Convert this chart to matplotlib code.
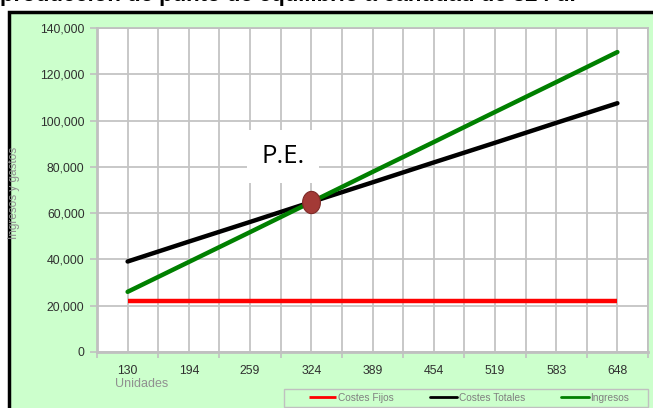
import numpy as np
import matplotlib.pyplot as plt
from matplotlib.path import Path
from matplotlib.patches import Rectangle
from matplotlib.ticker import FuncFormatter, FixedLocator

plt.rcParams['font.family'] = ['Liberation Sans', 'DejaVu Sans']

# Unidades producidas y resultados
unidades = ['130', '194', '259', '324', '389', '454', '519', '583', '648']
costes_fijos = [22000, 22000, 22000, 22000, 22000, 22000, 22000, 22000, 22000]
costes_totales = [39100, 47700, 56200, 64800, 73300, 81900, 90400, 99000, 107500]
ingresos = [26000, 38900, 51800, 64800, 77800, 90700, 103700, 116600, 129600]

# Punto de equilibrio
pe_unidades = '324'
pe_valor = 64800

W, H = 653, 408
fig = plt.figure(figsize=(W / 100, H / 100), dpi=100)
fig.patch.set_facecolor('white')

# marco verde del grafico
marco = Rectangle((9 / W, -0.05), 1.2, (396 / H) + 0.05, transform=fig.transFigure,
                  facecolor='#CCFFCC', edgecolor='black', linewidth=2.5, zorder=-5)
fig.patches.append(marco)

fig.text(0.0, 407 / H, 'producción de punto de equilibrio a cantidad de 324 u.',
         fontsize=16, fontweight='bold', va='baseline', ha='left')

ax = fig.add_axes([97 / W, 56 / H, 551 / W, 324 / H])
ax.set_facecolor('white')

x = np.arange(len(unidades))
ax.plot(x, costes_fijos, color='#FF0000', lw=3.2, solid_capstyle='butt', label='Costes Fijos', zorder=3)
ax.plot(x, costes_totales, color='black', lw=3.2, solid_capstyle='round', label='Costes Totales', zorder=3)
ax.plot(x, ingresos, color='#008000', lw=3.2, solid_capstyle='round', label='Ingresos', zorder=4)

# marcador eliptico del punto de equilibrio
t = np.linspace(0, 2 * np.pi, 60)
elipse = Path(np.column_stack([0.8 * np.cos(t), np.sin(t)]), closed=True)
ax.plot(unidades.index(pe_unidades), pe_valor, marker=elipse, markersize=16,
        color='#A33A36', markeredgecolor='#7E2A27', markeredgewidth=0.8, zorder=5)

ax.text(2.54, 84500, 'P.E.', fontsize=18.5, ha='center', va='center', zorder=6,
        family=['Open Sans', 'DejaVu Sans'],
        bbox=dict(boxstyle='square,pad=0.55', facecolor='white', edgecolor='none'))

ax.set_xlim(-0.5, len(unidades) - 0.5)
ax.set_ylim(0, 140000)

ax.set_xticks(x)
ax.set_xticklabels(unidades)
ax.xaxis.set_minor_locator(FixedLocator(np.arange(-0.5, len(unidades), 0.5)))
ax.set_yticks(np.arange(0, 140001, 20000))
ax.yaxis.set_major_formatter(FuncFormatter(lambda v, p: f'{v:,.0f}'))

ax.grid(True, which='both', axis='x', color='#C4C4C4', lw=1.3)
ax.grid(True, which='major', axis='y', color='#C4C4C4', lw=1.3)
ax.set_axisbelow(True)

for s in ax.spines.values():
    s.set_color('#C0C0C0')
    s.set_linewidth(1.3)
ax.spines['bottom'].set_linewidth(2)
ax.spines['left'].set_linewidth(2)

ax.tick_params(axis='x', which='major', length=0, pad=9, labelsize=8.8, labelcolor='#303030')
ax.tick_params(axis='x', which='minor', length=4, width=1.2, color='#C0C0C0')
ax.tick_params(axis='y', length=5, width=1.2, color='#C0C0C0', pad=4, labelsize=8.8, labelcolor='#303030')

fig.text(115 / W, (H - 384) / H, 'Unidades', fontsize=9, color='#909090', va='center', ha='left')
fig.text(14 / W, (H - 193) / H, 'Ingresos y gastos', fontsize=8.5, color='#909090',
         rotation=90, va='center', ha='center')

# caja de la leyenda
caja = Rectangle((284 / W, (H - 407) / H), 364 / W, 18 / H, transform=fig.transFigure,
                 facecolor='#CCFFCC', edgecolor='#C0C0C0', linewidth=1.0, zorder=-1)
fig.patches.append(caja)

leg = ax.legend(loc='center left', bbox_to_anchor=(309 / W, (H - 407) / H, 320 / W, 18 / H),
                bbox_transform=fig.transFigure, mode='expand', ncol=3, fontsize=7.3,
                frameon=False, handlelength=2.7, handletextpad=0.15,
                borderpad=0, borderaxespad=0)
for txt in leg.get_texts():
    txt.set_color('#808080')
for ln in leg.get_lines():
    ln.set_linewidth(2)

fig.savefig('out.png', dpi=100)
